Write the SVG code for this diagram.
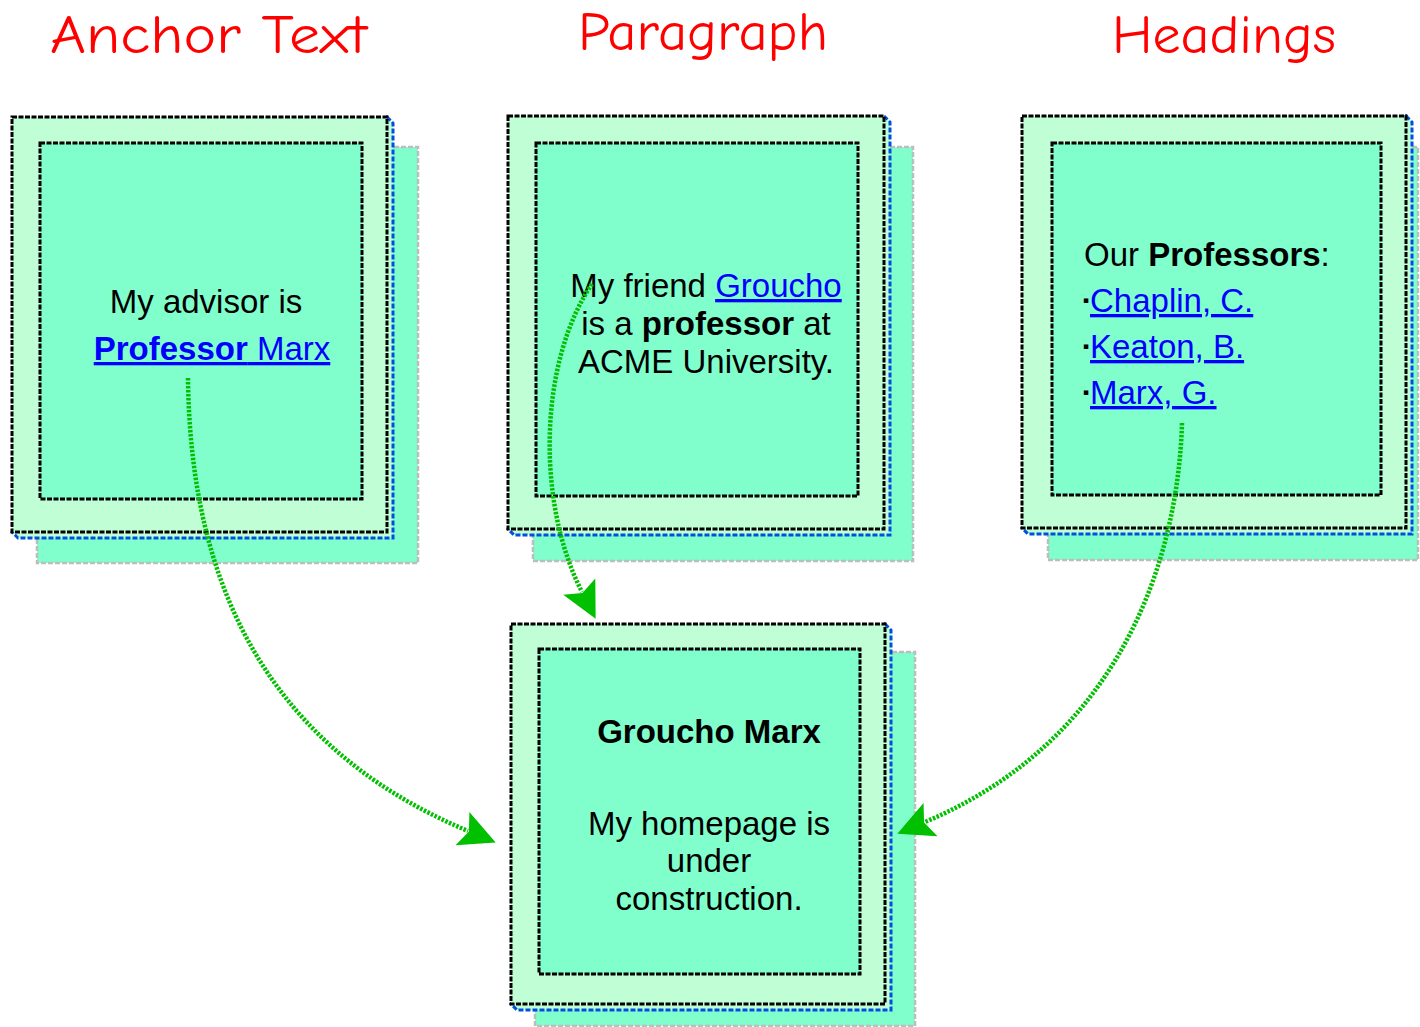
<svg xmlns="http://www.w3.org/2000/svg" width="1420" height="1027" viewBox="0 0 1420 1027">
<style>
.title{font-family:"Comic Sans MS","Comic Neue","DejaVu Sans",sans-serif;font-size:54px;fill:#FF0000}
.t{font-family:"Liberation Sans",Arial,sans-serif;font-size:33px;fill:#000}
.b{font-weight:bold}
.lk{fill:#0000FF;text-decoration:underline}
.shadow{fill:#80FFCC;stroke:#BDBDBD;stroke-width:2.5;stroke-dasharray:5,2}
.side{fill:#C0FFD6;stroke:#0050E0;stroke-width:3;stroke-dasharray:5,2}
.outer{fill:#C0FFD6;stroke:#000;stroke-width:3;stroke-dasharray:5,1.5}
.inner{fill:#80FFCC;stroke:#000;stroke-width:3;stroke-dasharray:5,1.5}
.conn{fill:none;stroke:#00C000;stroke-width:4.5;stroke-dasharray:2.5,1.5}
.bul{font-family:"DejaVu Sans",sans-serif;font-size:9px;fill:#000}
</style>
<defs>
<marker id="ah" markerUnits="userSpaceOnUse" markerWidth="50" markerHeight="50" refX="0" refY="0" orient="auto" overflow="visible">
<path d="M30,0 L-6,-18 L1,0 L-6,18 Z" fill="#00C000"/>
</marker>
</defs>
<rect width="1420" height="1027" fill="#FFFFFF"/>
<g id="titles">
<text class="title" x="50" y="53" textLength="317" lengthAdjust="spacingAndGlyphs">Anchor Text</text>
<text class="title" x="578" y="50" textLength="250" lengthAdjust="spacingAndGlyphs">Paragraph</text>
<text class="title" x="1112" y="53" textLength="224" lengthAdjust="spacingAndGlyphs">Headings</text>
</g>
<g id="node-anchor">
<rect class="shadow" x="37" y="147" width="381" height="416"/>
<path class="side" d="M387,117 L393,123 L393,538 L18,538 L12,532 Z"/>
<rect class="outer" x="12" y="117" width="375" height="415"/>
<rect class="inner" x="40" y="143" width="322" height="356"/>
<text class="t" x="206" y="313" text-anchor="middle">My advisor is</text>
<text class="t lk" x="212" y="360" text-anchor="middle"><tspan class="b">Professor</tspan> Marx</text>
</g>
<g id="node-paragraph">
<rect class="shadow" x="533" y="147" width="380" height="414"/>
<path class="side" d="M884,116 L890,122 L890,535 L514,535 L508,529 Z"/>
<rect class="outer" x="508" y="116" width="376" height="413"/>
<rect class="inner" x="536" y="143" width="322" height="353"/>
<text class="t" x="706" y="297" text-anchor="middle">My friend <tspan class="lk">Groucho</tspan></text>
<text class="t" x="706" y="335" text-anchor="middle">is a <tspan class="b">professor</tspan> at</text>
<text class="t" x="706" y="373" text-anchor="middle">ACME University.</text>
</g>
<g id="node-headings">
<rect class="shadow" x="1048" y="147" width="370" height="413"/>
<path class="side" d="M1406,116 L1412,122 L1412,534 L1028,534 L1022,528 Z"/>
<rect class="outer" x="1022" y="116" width="384" height="412"/>
<rect class="inner" x="1052" y="143" width="329" height="352"/>
<text class="t" x="1084" y="266">Our <tspan class="b">Professors</tspan>:</text>
<text class="bul" x="1083" y="303">▪</text>
<text class="t lk" x="1090" y="312">Chaplin, C.</text>
<text class="bul" x="1083" y="349">▪</text>
<text class="t lk" x="1090" y="358">Keaton, B.</text>
<text class="bul" x="1083" y="395">▪</text>
<text class="t lk" x="1090" y="404">Marx, G.</text>
</g>
<g id="node-homepage">
<rect class="shadow" x="535" y="652" width="380" height="374"/>
<path class="side" d="M885,624 L891,630 L891,1010 L517,1010 L511,1004 Z"/>
<rect class="outer" x="511" y="624" width="374" height="380"/>
<rect class="inner" x="539" y="649" width="321" height="325"/>
<text class="t b" x="709" y="743" text-anchor="middle">Groucho Marx</text>
<text class="t" x="709" y="835" text-anchor="middle">My homepage is</text>
<text class="t" x="709" y="872" text-anchor="middle">under</text>
<text class="t" x="709" y="910" text-anchor="middle">construction.</text>
</g>
<g id="connectors">
<path class="conn" d="M188,378 C190,560 250,740 468,831" marker-end="url(#ah)"/>
<path class="conn" d="M592,284 C540,360 535,500 582,592" marker-end="url(#ah)"/>
<path class="conn" d="M1182,423 C1178,560 1120,740 925,822" marker-end="url(#ah)"/>
</g>
</svg>
